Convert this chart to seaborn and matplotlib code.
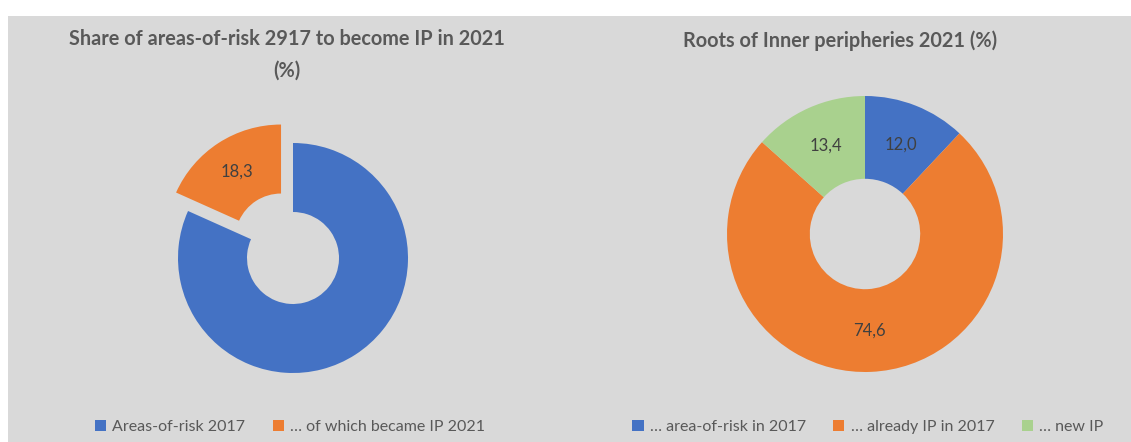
import numpy as np
import matplotlib.pyplot as plt
import seaborn as sns
from matplotlib.patches import Rectangle

# data
left_labels = ['Areas-of-risk 2017', '… of which became IP 2021']
left_values = [81.7, 18.3]
left_shown = [False, True]
right_labels = ['… area-of-risk in 2017', '… already IP in 2017', '… new IP']
right_values = [12.0, 74.6, 13.4]
right_shown = [True, True, True]

blue, orange, green = '#4472C4', '#ED7D31', '#A9D18E'

sns.set_theme(style='white')
plt.rcParams['font.family'] = ['Lato', 'DejaVu Sans']

W, H = 1131, 442
fig = plt.figure(figsize=(W / 100, H / 100), dpi=100)
fig.patch.set_facecolor('white')
fig.patches.append(Rectangle((8 / W, 0), 1 - 8 / W, (H - 16) / H, transform=fig.transFigure,
                             facecolor='#D9D9D9', edgecolor='none', zorder=-5))

# one axis in pixel units (y from bottom)
ax = fig.add_axes([0, 0, 1, 1])
ax.axis('off')
ax.patch.set_alpha(0)


def donut(values, colors, center, radius, explode, shown):
    hole = 0.4 * radius
    wedges, _ = ax.pie(values, colors=colors, center=center, radius=radius, explode=explode,
                       startangle=90, counterclock=False,
                       wedgeprops=dict(width=radius - hole, linewidth=0))
    for w, v, s in zip(wedges, values, shown):
        if not s:
            continue
        ang = np.deg2rad((w.theta1 + w.theta2) / 2)
        rr = (radius + hole) / 2
        cx, cy = w.center
        ax.text(cx + rr * np.cos(ang), cy + rr * np.sin(ang), f'{v:.1f}'.replace('.', ','),
                ha='center', va='center', fontsize=12, color='#404040')
    return wedges


lw = donut(left_values, [blue, orange], (293, H - 258), 115, [0, 22], left_shown)
rw = donut(right_values, [blue, orange, green], (865, H - 234), 138, [0, 0, 0], right_shown)
ax.set_xlim(0, W)
ax.set_ylim(0, H)
ax.set_aspect('equal')

fig.text(287 / W, 1 - 55 / H, 'Share of areas-of-risk 2917 to become IP in 2021\n(%)',
         ha='center', va='center', fontsize=14.3, fontweight='bold', color='#595959',
         linespacing=1.75)
fig.text(840 / W, 1 - 41 / H, 'Roots of Inner peripheries 2021 (%)',
         ha='center', va='center', fontsize=14.3, fontweight='bold', color='#595959')

leg_kw = dict(frameon=False, handlelength=0.7, handleheight=0.7, handletextpad=0.4,
              columnspacing=1.7, fontsize=11.5, labelcolor='#595959', loc='center')
fig.legend(lw, left_labels, ncol=2, bbox_to_anchor=(290 / W, 1 - 427 / H), **leg_kw)
fig.legend(rw, right_labels, ncol=3, bbox_to_anchor=(868 / W, 1 - 427 / H), **leg_kw)

fig.savefig('out.png', dpi=100)
